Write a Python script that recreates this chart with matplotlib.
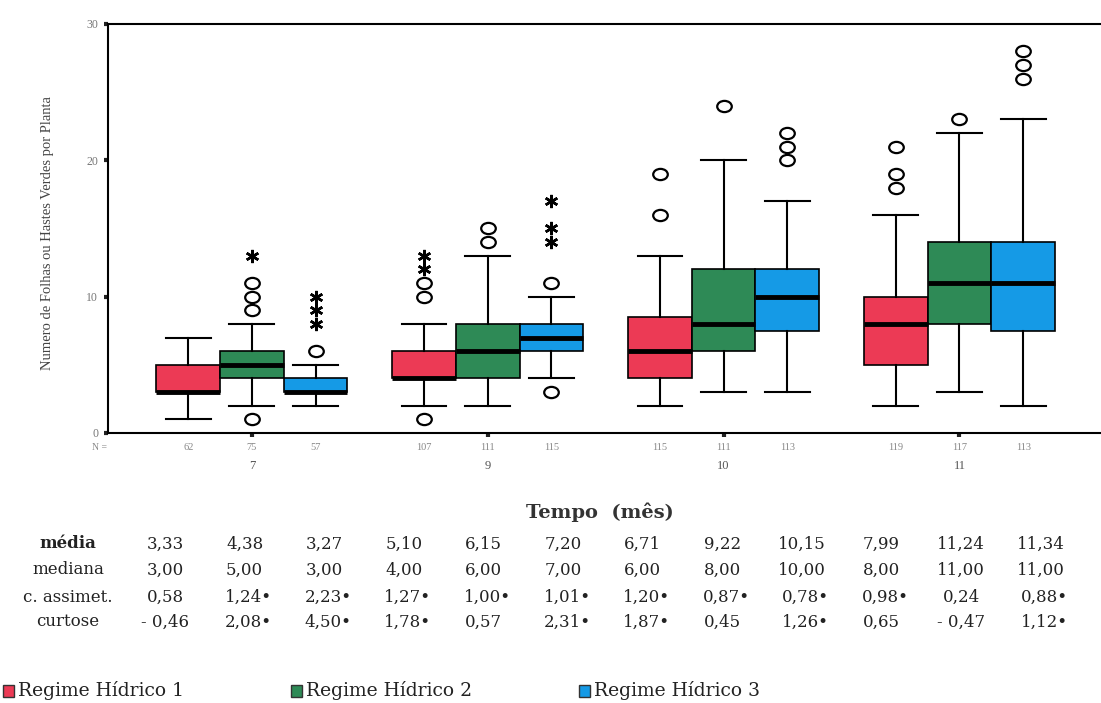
import matplotlib
matplotlib.use('Agg')
import matplotlib.pyplot as plt
import matplotlib.patches as mpatches
import matplotlib.transforms as mtransforms
from matplotlib.path import Path
import numpy as np

# Data
months = ['7', '9', '10', '11']
regimes = ['Regime Hídrico 1', 'Regime Hídrico 2', 'Regime Hídrico 3']
n_counts = [62, 75, 57, 107, 111, 115, 115, 111, 113, 119, 117, 113]

q1 = [3, 4, 3, 4, 4, 6, 4, 6, 7.5, 5, 8, 7.5]
med = [3, 5, 3, 4, 6, 7, 6, 8, 10, 8, 11, 11]
q3 = [5, 6, 4, 6, 8, 8, 8.5, 12, 12, 10, 14, 14]
whis_lo = [1, 2, 2, 2, 2, 4, 2, 3, 3, 2, 3, 2]
whis_hi = [7, 8, 5, 8, 13, 10, 13, 20, 17, 16, 22, 23]
outliers = [[], [1, 9, 10, 11], [6], [1, 10, 11], [14, 15], [3, 11],
            [16, 19], [24], [20, 21, 22], [18, 19, 21], [23], [26, 27, 28]]
extremes = [[], [13], [8, 9, 10], [12, 13], [], [14, 15, 17],
            [], [], [], [], [], []]

# summary table
media = [3.33, 4.38, 3.27, 5.10, 6.15, 7.20, 6.71, 9.22, 10.15, 7.99, 11.24, 11.34]
mediana = [3.00, 5.00, 3.00, 4.00, 6.00, 7.00, 6.00, 8.00, 10.00, 8.00, 11.00, 11.00]
assimetria = [0.58, 1.24, 2.23, 1.27, 1.00, 1.01, 1.20, 0.87, 0.78, 0.98, 0.24, 0.88]
assim_sig = [0, 1, 1, 1, 1, 1, 1, 1, 1, 1, 0, 1]
curtose = [-0.46, 2.08, 4.50, 1.78, 0.57, 2.31, 1.87, 0.45, 1.26, 0.65, -0.47, 1.12]
curt_sig = [0, 1, 1, 1, 0, 1, 1, 0, 1, 0, 0, 1]

colors = ['#EC3A55', '#2E8A56', '#159AE6']

W, H = 1101, 703
fig = plt.figure(figsize=(W / 100, H / 100), dpi=100)
fig.patch.set_facecolor('white')

ax = fig.add_axes([108 / W, 1 - 433 / H, 1 - 108 / W, (433 - 24) / H])

offset = 0.27
box_w = 0.27
positions = []
stats = []
for g in range(len(months)):
    for r in range(len(regimes)):
        i = g * 3 + r
        positions.append(g + (r - 1) * offset)
        stats.append({'q1': q1[i], 'med': med[i], 'q3': q3[i],
                      'whislo': whis_lo[i], 'whishi': whis_hi[i],
                      'fliers': outliers[i]})

# slightly flattened open circle, like the outliers in the original
circ = Path.unit_circle()
ell = Path(circ.vertices * np.array([1.3, 1.0]), circ.codes)

bp = ax.bxp(stats, positions=positions, widths=box_w, capwidths=0.19,
            patch_artist=True, showfliers=True,
            boxprops=dict(linewidth=1.2, edgecolor='black'),
            whiskerprops=dict(linewidth=1.5, color='black'),
            capprops=dict(linewidth=1.5, color='black'),
            medianprops=dict(linewidth=3.5, color='black', solid_capstyle='butt'),
            flierprops=dict(marker=ell, markersize=10.5, markerfacecolor='none',
                            markeredgecolor='black', markeredgewidth=1.6,
                            linestyle='none'))

for i, box in enumerate(bp['boxes']):
    box.set_facecolor(colors[i % 3])

# extremes drawn as asterisks
for i, ext in enumerate(extremes):
    if ext:
        ax.plot([positions[i]] * len(ext), ext, linestyle='none',
                marker=(6, 2, 0), markersize=9.5, markeredgewidth=1.8,
                color='black')

ax.set_xlim(-0.61, 3.6)
ax.set_ylim(0, 30)
ax.set_yticks([0, 10, 20, 30])
ax.set_yticklabels(['0', '10', '20', '30'], fontsize=8.5, color='#777777',
                   family='Liberation Serif')
ax.set_xticks(range(len(months)))
ax.set_xticklabels([])
ax.tick_params(axis='both', direction='out', length=3, width=3, color='#222222')
ax.tick_params(axis='y', pad=4)
for side in ['left', 'top', 'bottom']:
    ax.spines[side].set_linewidth(1.5)
ax.spines['right'].set_visible(False)

# N labels and month labels under the axis
trans = mtransforms.blended_transform_factory(ax.transData, fig.transFigure)
fig.text(100 / W, 1 - 447 / H, 'N =', fontsize=7, color='#888888',
         family='Liberation Serif', ha='center', va='center')
for p, n in zip(positions, n_counts):
    ax.text(p, 1 - 447 / H, str(n), transform=trans, fontsize=7.5,
            color='#888888', family='Liberation Serif', ha='center', va='center')
for g, m in enumerate(months):
    ax.text(g, 1 - 466 / H, m, transform=trans, fontsize=9, color='#555555',
            family='Liberation Serif', ha='center', va='center')

fig.text(48 / W, 1 - 233 / H, 'Numero de Folhas ou Hastes Verdes por Planta',
         rotation=90, fontsize=10.5, color='#444444', family='Liberation Serif',
         ha='center', va='center')

fig.text(600 / W, 1 - 512 / H, 'Tempo  (mês)', fontsize=14, fontweight='bold',
         color='#333333', family='DejaVu Serif', ha='center', va='center')


# statistics table
def fmt(v, sig=0):
    s = f'{abs(v):.2f}'.replace('.', ',')
    if v < 0:
        s = '- ' + s
    return s + ('•' if sig else '')


rows = [('média', [fmt(v) for v in media], 'bold'),
        ('mediana', [fmt(v) for v in mediana], 'normal'),
        ('c. assimet.', [fmt(v, s) for v, s in zip(assimetria, assim_sig)], 'normal'),
        ('curtose', [fmt(v, s) for v, s in zip(curtose, curt_sig)], 'normal')]
row_y = [544, 570, 597, 622]
col_x = [165 + 79.6 * i for i in range(12)]
for (label, vals, weight), y in zip(rows, row_y):
    fig.text(68 / W, 1 - y / H, label, fontsize=12, fontweight=weight,
             color='#222222', family='DejaVu Serif', ha='center', va='center')
    for x, v in zip(col_x, vals):
        shift = 4 if v.endswith('•') else 0
        fig.text((x + shift) / W, 1 - y / H, v, fontsize=12, color='#222222',
                 family='DejaVu Serif', ha='center', va='center')

# legend
leg_x = [3, 291, 579]
for x, name, c in zip(leg_x, regimes, colors):
    fig.patches.append(mpatches.Rectangle((x / W, 1 - 697 / H), 11 / W, 12 / H,
                                          transform=fig.transFigure,
                                          facecolor=c, edgecolor='#333333',
                                          linewidth=1))
    fig.text((x + 15) / W, 1 - 691 / H, name, fontsize=13.5, color='#222222',
             family='DejaVu Serif', ha='left', va='center')

fig.savefig('out.png', dpi=100, facecolor='white')
